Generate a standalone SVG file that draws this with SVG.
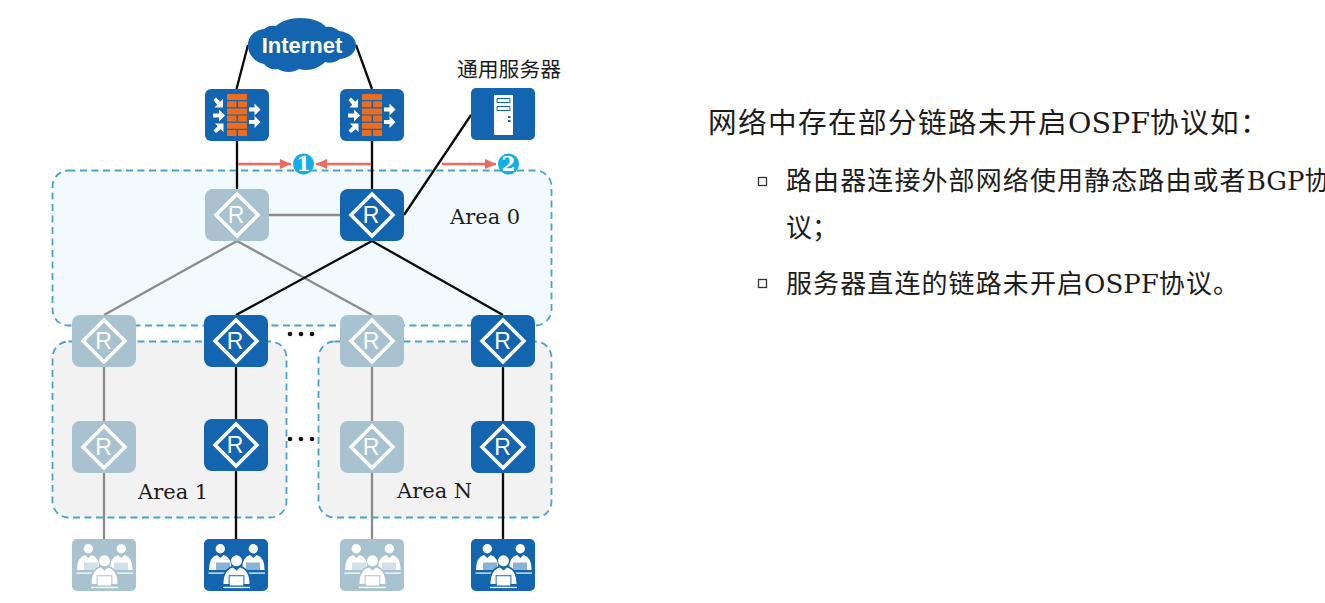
<svg xmlns="http://www.w3.org/2000/svg" width="1325" height="603" viewBox="0 0 1325 603">
<style>
.blue{fill:#1265ae}.pale{fill:#a8c3cf}
.area{stroke:#4aa3c4;stroke-width:1.8;stroke-dasharray:7 4.500}
.k{stroke:#0a0a0a;stroke-width:2.300;fill:none}
.g{stroke:#8c8c8c;stroke-width:2.300;fill:none}
.red{stroke:#ee6a5c;stroke-width:2.400;fill:none}
.dia{fill:none;stroke:#fff;stroke-width:3.500}
.r{font:23px "Liberation Sans",Arial,sans-serif;fill:#fff;text-anchor:middle}
.cn{font-family:"DejaVu Serif","Noto Sans CJK SC",serif;fill:#1c1c1c}
.num{font:bold 20px "DejaVu Serif",serif;fill:#fff;text-anchor:middle}
.bul{fill:#fff;stroke:#333;stroke-width:1.300}
.brick{fill:#ee6c1c}.w{fill:#fff}
</style>
<defs>
<marker id="ah" markerWidth="12" markerHeight="12" refX="11" refY="5" orient="auto" markerUnits="userSpaceOnUse"><path d="M0 0L11 5L0 10z" fill="#ee6a5c"/></marker>
<g id="fw">
<rect width="64" height="52" rx="6" class="blue"/>
<g class="brick">
<rect x="22" y="5" width="20" height="6" rx=".6"/>
<rect x="22" y="12.200" width="9.500" height="6" rx=".6"/><rect x="33" y="12.200" width="9" height="6" rx=".6"/>
<rect x="22" y="19.400" width="20" height="6" rx=".6"/>
<rect x="22" y="26.600" width="9.500" height="6" rx=".6"/><rect x="33" y="26.600" width="9" height="6" rx=".6"/>
<rect x="22" y="33.800" width="20" height="6" rx=".6"/>
<rect x="22" y="41" width="9.500" height="6" rx=".6"/><rect x="33" y="41" width="9" height="6" rx=".6"/>
</g>
<g class="w">
<path d="M8.500 11l2.500-2.500 4.200 4.200 2.800-2.800v8.600H9.400l2.800-2.800z"/>
<path d="M8 24.500h6v-4l6 6-6 6v-4H8z"/>
<path d="M11 44l-2.500-2.500 4.200-4.200-2.800-2.800h8.600v8.600l-2.800-2.800z"/>
<path d="M44 18.500h5.500v-4l6 6-6 6v-4H44z"/>
<path d="M44 31h5.500v-4l6 6-6 6v-4H44z"/>
</g>
</g>
<g id="people">
<g fill="#fff">
<circle cx="16.300" cy="9.800" r="4.700"/><path d="M5 31q0-13 8-15l3.300 3 3.300-3q8 2 8 15z"/>
<circle cx="49.300" cy="9.800" r="4.700"/><path d="M38 31q0-13 8-15l3.300 3 3.300-3q8 2 8 15z"/>
<rect x="4.500" y="33.500" width="24" height="1.200"/><rect x="40" y="33.500" width="21" height="1.200"/>
</g>
<rect x="12" y="23.500" width="14" height="8" fill="currentColor" opacity=".5"/>
<rect x="42" y="23.500" width="14" height="8" fill="currentColor" opacity=".5"/>
<path d="M17.500 46q0-18 15-20.500 15 2.500 15 20.500z" fill="currentColor"/>
<g fill="#fff">
<circle cx="32.500" cy="21.800" r="5.500"/><path d="M19.500 45q0-14 9.500-16.500l3.500 3 3.500-3q9.500 2.500 9.500 16.500z"/>
<rect x="19" y="47.800" width="27" height="1.300"/>
</g>
<rect x="24.500" y="36" width="16" height="10.500" fill="currentColor" opacity=".75"/>
<rect x="25.800" y="37.300" width="13.400" height="9.200" fill="#fff"/>
</g>
</defs>
<rect width="1325" height="603" fill="#fff"/>

<g id="areas">
<rect id="area0" class="area" x="52.500" y="170.500" width="499" height="155" rx="16" fill="#f3fafe"/>
<rect id="area1" class="area" x="52.500" y="341.500" width="234" height="176" rx="16" fill="#f2f2f2"/>
<rect id="areaN" class="area" x="318.500" y="341.500" width="233" height="176" rx="16" fill="#f2f2f2"/>
</g>

<g id="connectors">
<path class="k" d="M248 45L236.500 89M356 45L372 89M237 141V189M372 141V189M471 115L404 215"/>
<path class="g" d="M269 215H340M237 241L104 315M237 241L372 315"/>
<path class="k" d="M372 241L236 315M372 241L503 315"/>
<path class="g" d="M104 367V421M104 473V539M372 367V421M372 473V539"/>
<path class="k" d="M236 367V419M236 471V539M503 367V421M503 473V539"/>
<path class="red" d="M238 164H291" marker-end="url(#ah)"/>
<path class="red" d="M371 164H316" marker-end="url(#ah)"/>
<path class="red" d="M442 164H496" marker-end="url(#ah)"/>
</g>

<g id="internet">
<path class="blue" d="M248 45c0-9 7-15 16-16 3-3 8-4 12-3 5-5 14-8 24-8 11 0 21 3 26 9 5-1 10 1 13 4 10 1 17 7 17 14 0 8-7 13-16 14-4 3-10 5-15 3-6 6-16 10-26 7-6 4-15 4-21 0-6 1-11-1-14-5-9-2-16-9-16-19z"/>
<text x="302" y="53" text-anchor="middle" style="font:bold 22px 'Liberation Sans',Arial,sans-serif" fill="#fff">Internet</text>
</g>

<g id="fw1"><use href="#fw" x="205" y="89"/></g>
<g id="fw2"><use href="#fw" x="340" y="89"/></g>

<g id="server">
<rect x="471" y="88" width="64" height="52" rx="5" class="blue"/>
<rect x="494" y="95" width="19" height="40" fill="#fff"/>
<path d="M497 98.500h13v4h-13zM497 106.500h13v4h-13z" fill="#fff" stroke="#1265ae" stroke-width="1"/>
<path d="M508 116h2.500v2h-2.500zM508 120h2.500v2h-2.500z" fill="#1265ae"/>
<text x="509" y="77" text-anchor="middle" class="cn" font-size="20.800">通用服务器</text>
</g>

<g id="r1"><rect x="205" y="189" width="64" height="52" rx="8" class="pale"/><path class="dia" d="M237 194L258 215L237 236L216 215z"/><text class="r" x="236" y="223">R</text></g>
<g id="r2"><rect x="340" y="189" width="64" height="52" rx="8" class="blue"/><path class="dia" d="M372 194L393 215L372 236L351 215z"/><text class="r" x="371" y="223">R</text></g>

<g id="r3"><rect x="72" y="315" width="64" height="52" rx="8" class="pale"/><path class="dia" d="M104 320L125 341L104 362L83 341z"/><text class="r" x="103.500" y="349">R</text></g>
<g id="r4"><rect x="204" y="315" width="64" height="52" rx="8" class="blue"/><path class="dia" d="M236 320L257 341L236 362L215 341z"/><text class="r" x="235" y="349">R</text></g>
<g id="r5"><rect x="340" y="315" width="64" height="52" rx="8" class="pale"/><path class="dia" d="M372 320L393 341L372 362L351 341z"/><text class="r" x="371" y="349">R</text></g>
<g id="r6"><rect x="471" y="315" width="64" height="52" rx="8" class="blue"/><path class="dia" d="M503 320L524 341L503 362L482 341z"/><text class="r" x="502.500" y="349">R</text></g>

<g id="r7"><rect x="72" y="421" width="64" height="52" rx="8" class="pale"/><path class="dia" d="M104 426L125 447L104 468L83 447z"/><text class="r" x="103.500" y="455">R</text></g>
<g id="r8"><rect x="204" y="419" width="64" height="52" rx="8" class="blue"/><path class="dia" d="M236 424L257 445L236 466L215 445z"/><text class="r" x="235" y="453">R</text></g>
<g id="r9"><rect x="340" y="421" width="64" height="52" rx="8" class="pale"/><path class="dia" d="M372 426L393 447L372 468L351 447z"/><text class="r" x="371" y="455">R</text></g>
<g id="r10"><rect x="471" y="421" width="64" height="52" rx="8" class="blue"/><path class="dia" d="M503 426L524 447L503 468L482 447z"/><text class="r" x="502.500" y="455">R</text></g>

<g id="u1" color="#a8c3cf"><rect x="72" y="539" width="64" height="52" rx="5" class="pale"/><use href="#people" x="72" y="539"/></g>
<g id="u2" color="#1265ae"><rect x="204" y="539" width="64" height="52" rx="5" class="blue"/><use href="#people" x="204" y="539"/></g>
<g id="u3" color="#a8c3cf"><rect x="340" y="539" width="64" height="52" rx="5" class="pale"/><use href="#people" x="340" y="539"/></g>
<g id="u4" color="#1265ae"><rect x="471" y="539" width="64" height="52" rx="5" class="blue"/><use href="#people" x="471" y="539"/></g>

<g id="dots" fill="#111">
<circle cx="290" cy="334" r="2.300"/><circle cx="301" cy="334" r="2.300"/><circle cx="312" cy="334" r="2.300"/>
<circle cx="290" cy="439" r="2.300"/><circle cx="301" cy="439" r="2.300"/><circle cx="312" cy="439" r="2.300"/>
</g>

<g id="m1"><circle cx="303.500" cy="164" r="10.500" fill="#12aee8"/><text class="num" x="303.500" y="171">1</text></g>
<g id="m2"><circle cx="508.500" cy="164" r="10.500" fill="#12aee8"/><text class="num" x="508.500" y="171">2</text></g>

<g id="labels" class="cn" font-size="21">
<text x="450" y="224">Area 0</text>
<text x="138" y="499">Area 1</text>
<text x="397" y="498">Area N</text>
</g>

<g id="body" class="cn">
<text x="708" y="133" font-size="28.600"><tspan letter-spacing="1.400">网络中存在部分链路未开启</tspan>OSPF<tspan letter-spacing="1.400">协议如：</tspan></text>
<rect class="bul" x="758.500" y="177.500" width="8" height="8"/>
<text x="786" y="190" font-size="26"><tspan letter-spacing="1.100">路由器连接外部网络使用静态路由或者</tspan>BGP协</text>
<text x="786" y="237" font-size="26">议；</text>
<rect class="bul" x="758.500" y="279.500" width="8" height="8"/>
<text x="786" y="293" font-size="26"><tspan letter-spacing="1.100">服务器直连的链路未开启</tspan>OSPF<tspan letter-spacing="1.100">协议。</tspan></text>
</g>
</svg>
